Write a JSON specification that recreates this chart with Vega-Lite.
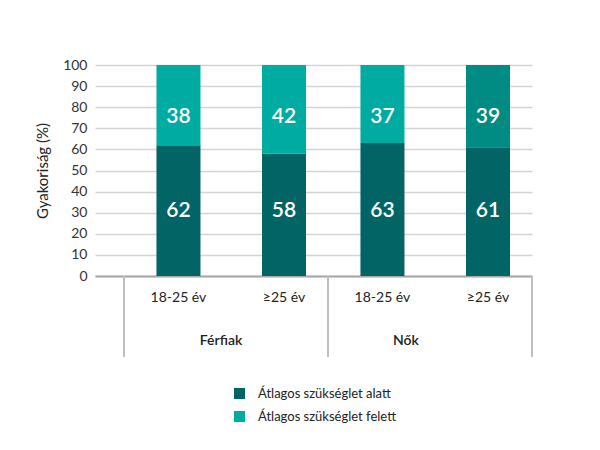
{
  "$schema": "https://vega.github.io/schema/vega-lite/v6.json",
  "width": 437,
  "height": 211,
  "autosize": {"type": "none"},
  "padding": {"left": 95, "top": 65, "right": 68, "bottom": 174},
  "background": "white",
  "config": {
    "font": "Lato",
    "view": {"stroke": null},
    "axisY": {
      "titleFontSize": 15,
      "titleFontWeight": "normal",
      "titleColor": "#222222",
      "titlePadding": 12,
      "domain": false,
      "ticks": false,
      "labelPadding": 8,
      "labelFontSize": 14,
      "labelColor": "#333333",
      "gridColor": "#d4d4d4",
      "gridWidth": 1.5
    },
    "legend": {
      "orient": "none",
      "legendX": 138,
      "legendY": 322,
      "direction": "vertical",
      "symbolType": "square",
      "symbolSize": 121,
      "symbolStrokeWidth": 0,
      "labelFontSize": 13,
      "labelColor": "#222222",
      "labelOffset": 12,
      "rowPadding": 9
    }
  },
  "datasets": {
    "shares": [
      {"group": "Férfiak", "age": "18-25 év", "category": "Átlagos szükséglet alatt", "value": 62},
      {"group": "Férfiak", "age": "18-25 év", "category": "Átlagos szükséglet felett", "value": 38},
      {"group": "Férfiak", "age": "≥25 év", "category": "Átlagos szükséglet alatt", "value": 58},
      {"group": "Férfiak", "age": "≥25 év", "category": "Átlagos szükséglet felett", "value": 42},
      {"group": "Nők", "age": "18-25 év", "category": "Átlagos szükséglet alatt", "value": 63},
      {"group": "Nők", "age": "18-25 év", "category": "Átlagos szükséglet felett", "value": 37},
      {"group": "Nők", "age": "≥25 év", "category": "Átlagos szükséglet alatt", "value": 61},
      {"group": "Nők", "age": "≥25 év", "category": "Átlagos szükséglet felett", "value": 39}
    ],
    "groups": [
      {"group": "Férfiak"},
      {"group": "Nők"}
    ]
  },
  "encoding": {
    "x": {
      "field": "group",
      "type": "nominal",
      "sort": ["Férfiak", "Nők"],
      "scale": {"paddingInner": 0, "paddingOuter": 0.0711, "align": 1},
      "axis": {
        "labels": false,
        "ticks": false,
        "title": null,
        "grid": false,
        "domainColor": "#a6a6a6",
        "domainWidth": 2
      }
    },
    "y": {
      "type": "quantitative",
      "scale": {"domain": [0, 100], "nice": false, "zero": true},
      "axis": {
        "title": "Gyakoriság (%)",
        "values": [0, 10, 20, 30, 40, 50, 60, 70, 80, 90, 100],
        "labelOverlap": false,
        "gridCap": "butt"
      }
    }
  },
  "layer": [
    {
      "data": {"name": "shares"},
      "mark": {"type": "bar"},
      "encoding": {
        "xOffset": {
          "field": "age",
          "type": "nominal",
          "sort": ["18-25 év", "≥25 év"],
          "scale": {"paddingInner": 0.583, "paddingOuter": 0.258, "align": 0.596}
        },
        "y": {
          "field": "value",
          "type": "quantitative",
          "stack": true,
          "title": "Gyakoriság (%)",
          "axis": {
            "values": [0, 10, 20, 30, 40, 50, 60, 70, 80, 90, 100],
            "labelOverlap": false
          }
        },
        "order": {"field": "category", "sort": "ascending"},
        "color": {
          "condition": {
            "test": "datum.group === 'Nők' && datum.age === '≥25 év' && datum.category === 'Átlagos szükséglet felett'",
            "value": "#008c82"
          },
          "field": "category",
          "type": "nominal",
          "title": null,
          "scale": {
            "domain": ["Átlagos szükséglet alatt", "Átlagos szükséglet felett"],
            "range": ["#036466", "#00aba1"]
          }
        }
      }
    },
    {
      "data": {"name": "shares"},
      "transform": [{"filter": "datum.category === 'Átlagos szükséglet alatt'"}],
      "mark": {"type": "text", "color": "white", "fontSize": 21, "fontWeight": 600, "baseline": "middle"},
      "encoding": {
        "xOffset": {"field": "age", "type": "nominal", "sort": ["18-25 év", "≥25 év"]},
        "y": {"datum": 31, "type": "quantitative", "axis": {"values": [0, 10, 20, 30, 40, 50, 60, 70, 80, 90, 100]}},
        "text": {"field": "value", "type": "quantitative"}
      }
    },
    {
      "data": {"name": "shares"},
      "transform": [{"filter": "datum.category === 'Átlagos szükséglet felett'"}],
      "mark": {"type": "text", "color": "white", "fontSize": 21, "fontWeight": 600, "baseline": "middle"},
      "encoding": {
        "xOffset": {"field": "age", "type": "nominal", "sort": ["18-25 év", "≥25 év"]},
        "y": {"datum": 75.5, "type": "quantitative", "axis": {"values": [0, 10, 20, 30, 40, 50, 60, 70, 80, 90, 100]}},
        "text": {"field": "value", "type": "quantitative"}
      }
    },
    {
      "data": {"name": "shares"},
      "transform": [{"filter": "datum.category === 'Átlagos szükséglet alatt'"}],
      "mark": {"type": "text", "color": "#222222", "fontSize": 14, "baseline": "middle"},
      "encoding": {
        "xOffset": {"field": "age", "type": "nominal", "sort": ["18-25 év", "≥25 év"]},
        "y": {"datum": -10.4, "type": "quantitative", "axis": {"values": [0, 10, 20, 30, 40, 50, 60, 70, 80, 90, 100]}},
        "text": {"field": "age", "type": "nominal"}
      }
    },
    {
      "data": {"name": "groups"},
      "mark": {"type": "rule", "color": "#bfbfbf", "strokeWidth": 2, "clip": false},
      "encoding": {
        "x": {"field": "group", "type": "nominal", "sort": ["Férfiak", "Nők"], "bandPosition": 0},
        "y": {"datum": 0, "type": "quantitative", "axis": {"values": [0, 10, 20, 30, 40, 50, 60, 70, 80, 90, 100]}},
        "y2": {"datum": -38.4}
      }
    },
    {
      "data": {"name": "groups"},
      "transform": [{"filter": "datum.group === 'Nők'"}],
      "mark": {"type": "rule", "color": "#bfbfbf", "strokeWidth": 2, "clip": false},
      "encoding": {
        "x": {"field": "group", "type": "nominal", "sort": ["Férfiak", "Nők"], "bandPosition": 1},
        "y": {"datum": 0, "type": "quantitative", "axis": {"values": [0, 10, 20, 30, 40, 50, 60, 70, 80, 90, 100]}},
        "y2": {"datum": -38.4}
      }
    },
    {
      "data": {"name": "groups"},
      "transform": [{"filter": "datum.group === 'Férfiak'"}],
      "mark": {"type": "text", "color": "#222222", "fontSize": 14, "fontWeight": 600, "baseline": "middle", "dx": -5},
      "encoding": {
        "y": {"datum": -30.8, "type": "quantitative", "axis": {"values": [0, 10, 20, 30, 40, 50, 60, 70, 80, 90, 100]}},
        "text": {"field": "group", "type": "nominal"}
      }
    },
    {
      "data": {"name": "groups"},
      "transform": [{"filter": "datum.group === 'Nők'"}],
      "mark": {"type": "text", "color": "#222222", "fontSize": 14, "fontWeight": 600, "baseline": "middle", "dx": -24},
      "encoding": {
        "y": {"datum": -30.8, "type": "quantitative", "axis": {"values": [0, 10, 20, 30, 40, 50, 60, 70, 80, 90, 100]}},
        "text": {"field": "group", "type": "nominal"}
      }
    }
  ]
}
